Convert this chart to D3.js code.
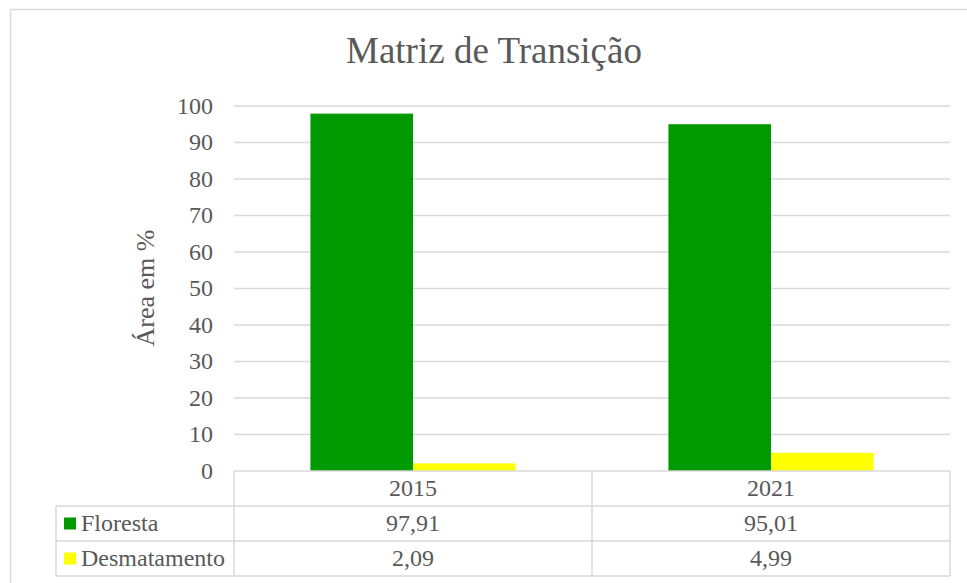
<!DOCTYPE html>
<html>
<head>
<meta charset="utf-8">
<script src="https://cdn.jsdelivr.net/npm/d3@7"></script>
<style>
  body { margin: 0; background: #fff; }
</style>
</head>
<body>
<div id="chart"></div>
<script>
// Data
const years = ["2015", "2021"];
const seriesNames = ["Floresta", "Desmatamento"];
const floresta = [97.91, 95.01];
const desmatamento = [2.09, 4.99];
const yTicks = [0, 10, 20, 30, 40, 50, 60, 70, 80, 90, 100];

const colors = ["#009900", "#ffff00"];
const values = [floresta, desmatamento];
const fmt = v => d3.format(".2f")(v).replace(".", ",");

// Setup
const width = 967;
const height = 583;
const plot = { left: 234, right: 950, top: 106, bottom: 471 };
const rowH = 35;
const tableLeft = 56;
const font = "'Liberation Serif', 'Times New Roman', serif";

const svg = d3.select("#chart")
              .append("svg")
              .attr("width", width)
              .attr("height", height)
              .style("font-family", font);

// chart frame
svg.append("rect")
   .attr("x", 10.5).attr("y", 9.5)
   .attr("width", 968).attr("height", 600)
   .attr("fill", "none")
   .attr("stroke", "#d9d9d9")
   .attr("stroke-width", 1.5);

const x = d3.scaleBand()
            .domain(years)
            .range([plot.left, plot.right])
            .paddingInner(0.427)
            .paddingOuter(0.2135);

const xs = d3.scaleBand()
             .domain(seriesNames)
             .range([0, x.bandwidth()]);

const y = d3.scaleLinear()
            .domain([0, 100])
            .range([plot.bottom, plot.top]);

// gridlines
svg.append("g")
   .selectAll("line")
   .data(yTicks.filter(d => d > 0))
   .enter().append("line")
     .attr("x1", plot.left).attr("x2", plot.right)
     .attr("y1", d => y(d)).attr("y2", d => y(d))
     .attr("stroke", "#d9d9d9")
     .attr("stroke-width", 1.5);

// shared text style
function label(sel, size) {
  return sel.style("font-family", font)
            .style("font-size", size + "px")
            .attr("fill", "#595959");
}

// y tick labels
svg.append("g")
   .selectAll("text")
   .data(yTicks)
   .enter().append("text")
     .attr("x", 213)
     .attr("y", d => y(d))
     .attr("dy", "0.33em")
     .attr("text-anchor", "end")
     .call(label, 24)
     .text(d => d);

// bars
seriesNames.forEach(function(name, i) {
  svg.append("g")
     .selectAll("rect")
     .data(values[i])
     .enter().append("rect")
       .attr("x", (d, j) => x(years[j]) + xs(name))
       .attr("y", d => y(d))
       .attr("width", xs.bandwidth())
       .attr("height", d => y(0) - y(d))
       .attr("fill", colors[i]);
});

// title
svg.append("text")
   .attr("x", 494)
   .attr("y", 63)
   .attr("text-anchor", "middle")
   .call(label, 37)
   .text("Matriz de Transição");

// y axis title
svg.append("text")
   .attr("transform", "translate(154,288) rotate(-90)")
   .attr("text-anchor", "middle")
   .call(label, 26)
   .text("Área em %");

// data table
const table = svg.append("g")
                 .attr("stroke", "#d9d9d9")
                 .attr("stroke-width", 1.5);

const tableBottom = plot.bottom + rowH * 3;
// horizontal lines
table.append("line")
     .attr("x1", plot.left).attr("x2", plot.right)
     .attr("y1", plot.bottom).attr("y2", plot.bottom);
[1, 2, 3].forEach(function(r) {
  table.append("line")
       .attr("x1", tableLeft).attr("x2", plot.right)
       .attr("y1", plot.bottom + rowH * r).attr("y2", plot.bottom + rowH * r);
});
// vertical lines
const colEdges = [plot.left, (x(years[0]) + x(years[1]) + x.bandwidth()) / 2, plot.right];
colEdges.forEach(function(cx) {
  table.append("line")
       .attr("x1", cx).attr("x2", cx)
       .attr("y1", plot.bottom).attr("y2", tableBottom);
});
table.append("line")
     .attr("x1", tableLeft).attr("x2", tableLeft)
     .attr("y1", plot.bottom + rowH).attr("y2", tableBottom);

// header row
svg.append("g")
   .selectAll("text")
   .data(years)
   .enter().append("text")
     .attr("x", d => x(d) + x.bandwidth() / 2)
     .attr("y", plot.bottom + rowH / 2)
     .attr("dy", "0.33em")
     .attr("text-anchor", "middle")
     .call(label, 24)
     .text(d => d);

seriesNames.forEach(function(name, i) {
  const cy = plot.bottom + rowH * (i + 1) + rowH / 2;
  svg.append("rect")
     .attr("x", 64).attr("y", cy - 6)
     .attr("width", 12).attr("height", 12)
     .attr("fill", colors[i]);
  svg.append("text")
     .attr("x", 81).attr("y", cy)
     .attr("dy", "0.33em")
     .call(label, 24)
     .text(name);
  svg.append("g")
     .selectAll("text")
     .data(values[i])
     .enter().append("text")
       .attr("x", (d, j) => x(years[j]) + x.bandwidth() / 2)
       .attr("y", cy)
       .attr("dy", "0.33em")
       .attr("text-anchor", "middle")
       .call(label, 24)
       .text(d => fmt(d));
});
</script>
</body>
</html>
